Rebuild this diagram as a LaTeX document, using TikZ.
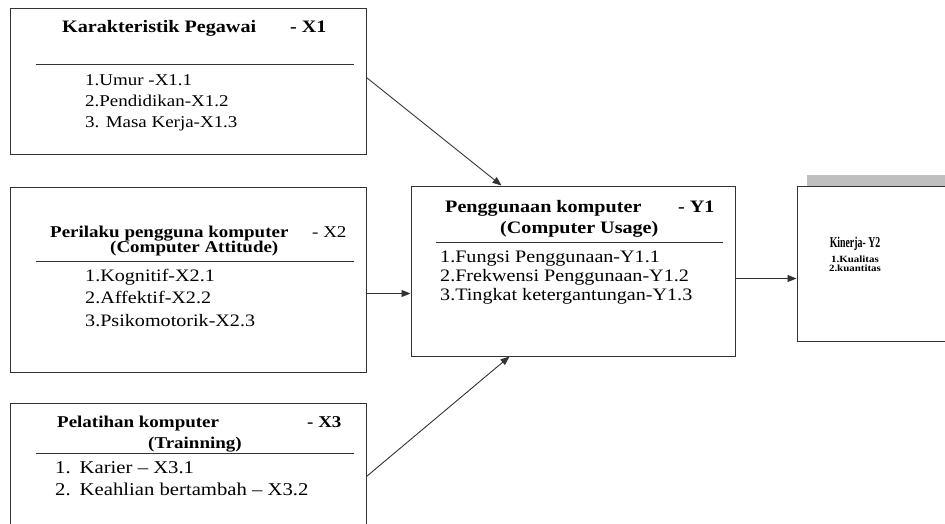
\documentclass[tikz,border=0pt]{standalone}
\usepackage{fontspec}
\setmainfont{Liberation Serif}[FakeStretch=1.15]
\usetikzlibrary{arrows.meta,calc}

\begin{document}
\begin{tikzpicture}[x=1pt, y=-1pt, >={Triangle[length=9pt,width=7pt]},
  box/.style={draw=black!80, line width=1pt, inner sep=0pt, fill=white},
  ttl/.style={anchor=base west, inner sep=0pt, font=\fontsize{#1}{#1}\selectfont\bfseries},
  ttl/.default=16.5,
  item/.style={anchor=base west, inner sep=0pt, font=\fontsize{#1}{#1}\selectfont},
  item/.default=16.5,
  link/.style={->, line width=0.9pt, draw=black!80}]
  % Page size as the reference (pixels as pt)
  \useasboundingbox (0,0) rectangle (945,524);
  \clip (0,0) rectangle (945,524);

  % Boxes
  \node[box, minimum width=356pt, minimum height=146pt] (x1) at (188,82) {};
  \node[box, minimum width=356pt, minimum height=185pt] (x2) at (188,279.5) {};
  \node[box, minimum width=356pt, minimum height=157pt] (x3) at (188,481.5) {};
  \node[box, minimum width=324pt, minimum height=170pt] (y1) at (573,271) {};
  \fill[black!25] (807,175) rectangle (950,186); % shadow bar
  \node[box, minimum width=163pt, minimum height=155pt] (y2) at (878.5,263.5) {};

  % Header rules
  \draw[line width=0.9pt, black!80] (36,64) -- (354,64);
  \draw[line width=0.9pt, black!80] (36,261) -- (354,261);
  \draw[line width=0.9pt, black!80] (36,453) -- (354,453);
  \draw[line width=0.9pt, black!80] (436,242) -- (723,242);

  % X1
  \node[ttl=17.5] (x1t) at (62,33) {Karakteristik Pegawai};
  \node[ttl=17.5] (x1n) at (290,33) {- X1};
  \node[item] (x1a) at (85,85.5) {1.Umur -X1.1};
  \node[item] (x1b) at (85,106.5) {2.Pendidikan-X1.2};
  \node[item] (x1c) at (85,127.5) {3. Masa Kerja-X1.3};

  % X2
  \node[ttl] (x2t) at (50,237) {Perilaku pengguna komputer};
  \node[item] (x2n) at (312,237) {- X2};
  \node[ttl] (x2s) at (110,252) {(Computer Attitude)};
  \node[item=17.5] (x2a) at (85,281) {1.Kognitif-X2.1};
  \node[item=17.5] (x2b) at (85,303) {2.Affektif-X2.2};
  \node[item=17.5] (x2c) at (85,326) {3.Psikomotorik-X2.3};

  % X3
  \node[ttl] (x3t) at (57,427) {Pelatihan komputer};
  \node[ttl] (x3n) at (307,427) {- X3};
  \node[ttl] (x3s) at (148,448) {(Trainning)};
  \node[item=18] (x3a) at (55,473) {1.\hspace{9pt}Karier -- X3.1};
  \node[item=18] (x3b) at (55,495) {2.\hspace{9pt}Keahlian bertambah -- X3.2};

  % Y1
  \node[ttl=17.5] (y1t) at (445,212) {Penggunaan komputer};
  \node[ttl=17.5] (y1n) at (678,212) {- Y1};
  \node[ttl=17.5] (y1s) at (500,233) {(Computer Usage)};
  \node[item=17.5] (y1a) at (440,262) {1.Fungsi Penggunaan-Y1.1};
  \node[item=17.5] (y1b) at (440,281) {2.Frekwensi Penggunaan-Y1.2};
  \node[item=17.5] (y1c) at (440,300) {3.Tingkat ketergantungan-Y1.3};

  % Y2
  \node[anchor=base, inner sep=0pt, font=\fontsize{15}{15}\selectfont\bfseries] (y2t) at (855,247)
    {\scalebox{0.57}[1]{Kinerja- Y2}};
  \node[anchor=base, inner sep=0pt, font=\fontsize{9.5}{9.5}\selectfont\bfseries] (y2a) at (855,262) {1.Kualitas};
  \node[anchor=base, inner sep=0pt, font=\fontsize{9.5}{9.5}\selectfont\bfseries] (y2b) at (855,271) {2.kuantitas};

  % Connector ends
  \coordinate (x1out) at ($(x1.north east)+(0,69)$);
  \coordinate (x2out) at ($(x2.north east)+(0,107)$);
  \coordinate (x3out) at ($(x3.north east)+(0,74)$);
  \coordinate (y1out) at ($(y1.north east)+(0,93)$);
  \coordinate (y1top) at ($(y1.north west)+(91,0)$);
  \coordinate (y1bot) at ($(y1.south west)+(99,0)$);

  % Arrows
  \draw[link] (x1out) -- (y1top);
  \draw[link] (x2out) -- (x2out -| y1.west);
  \draw[link] (x3out) -- (y1bot);
  \draw[link] (y1out) -- (y1out -| y2.west);
\end{tikzpicture}
\end{document}
